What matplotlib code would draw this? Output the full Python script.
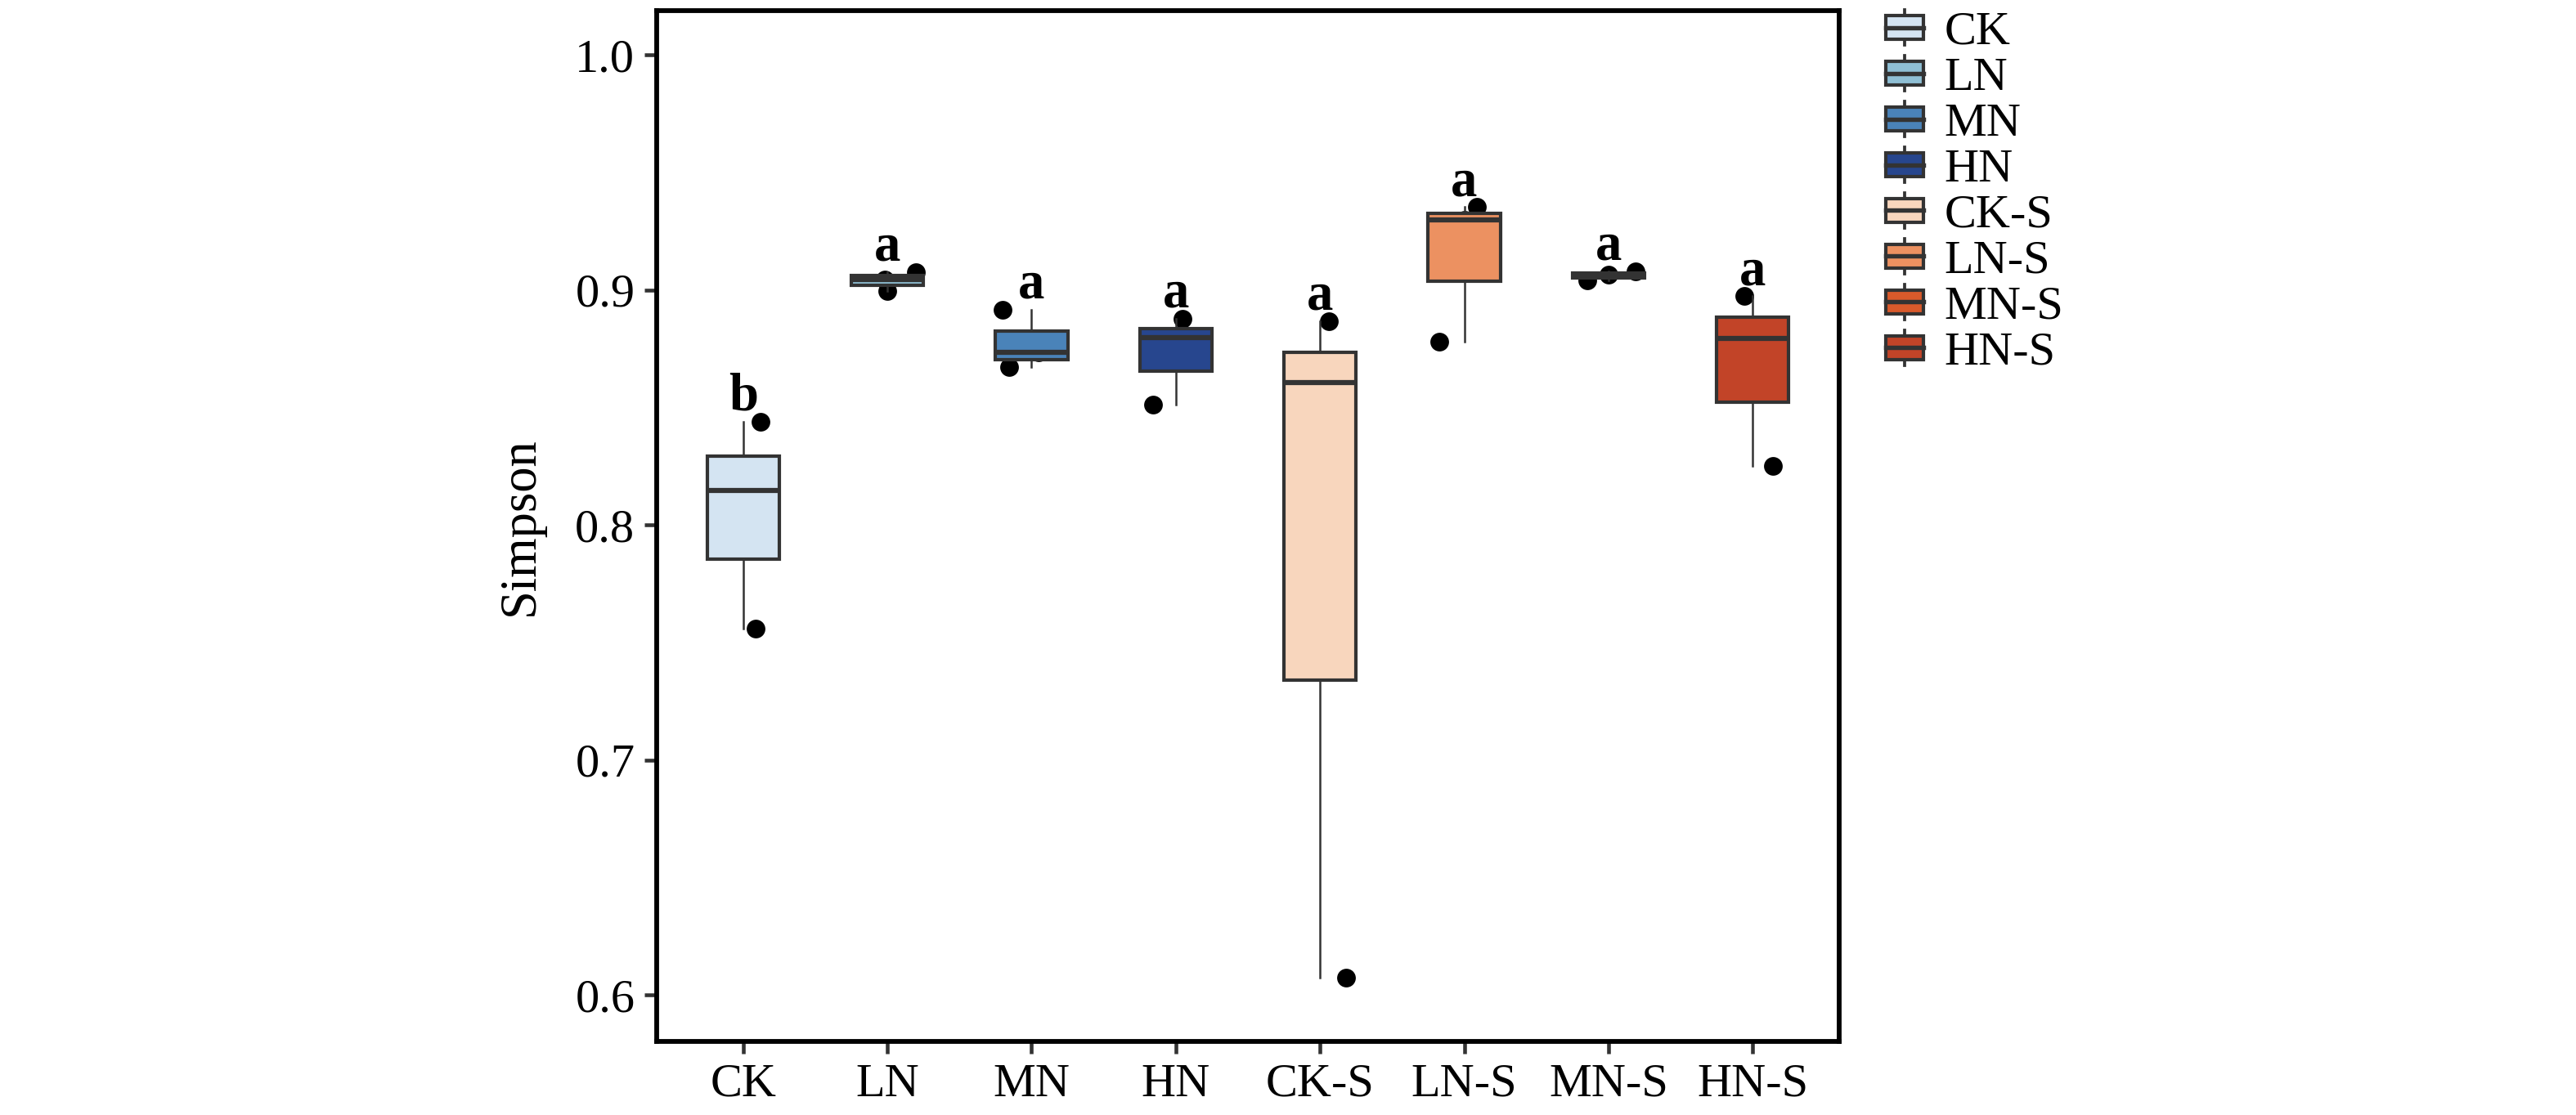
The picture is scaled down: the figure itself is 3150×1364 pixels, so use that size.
import matplotlib
matplotlib.use('Agg')
import matplotlib.pyplot as plt
import numpy as np
from matplotlib.legend_handler import HandlerBase
from matplotlib.patches import Rectangle, Patch
from matplotlib.lines import Line2D

plt.rcParams['font.family'] = 'serif'
plt.rcParams['font.serif'] = ['Liberation Serif', 'DejaVu Serif']
SERIF = 'Liberation Serif'

# Simpson index, three replicates per treatment
groups = ['CK', 'LN', 'MN', 'HN', 'CK-S', 'LN-S', 'MN-S', 'HN-S']
ck = [0.756, 0.8145, 0.844]
ln = [0.8995, 0.9045, 0.9075]
mn = [0.867, 0.8735, 0.8915]
hn = [0.8513, 0.8796, 0.8877]
ck_s = [0.6075, 0.8605, 0.8866]
ln_s = [0.878, 0.9296, 0.9352]
mn_s = [0.9040, 0.9063, 0.9078]
hn_s = [0.8251, 0.8792, 0.8973]
values = [ck, ln, mn, hn, ck_s, ln_s, mn_s, hn_s]

# horizontal jitter of the points
jitter = [[0.085, 0.0, 0.12],
          [0.0, -0.02, 0.20],
          [-0.155, 0.05, -0.20],
          [-0.16, 0.0, 0.045],
          [0.18, 0.0, 0.06],
          [-0.175, 0.0, 0.085],
          [-0.145, 0.0, 0.19],
          [0.14, 0.0, -0.06]]

letters = ['b', 'a', 'a', 'a', 'a', 'a', 'a', 'a']

colors = ['#d4e4f2', '#8fbfd4', '#4a83b9', '#27468e',
          '#f8d6bd', '#ec9161', '#d95a2b', '#c24428']

edge = '#333333'


class BoxKey(HandlerBase):
    def create_artists(self, legend, orig_handle, xdescent, ydescent,
                       width, height, fontsize, trans):
        fc = orig_handle.get_facecolor()
        x0, y0 = -xdescent, -ydescent
        cx = x0 + width / 2
        cy = y0 + height / 2
        bh = height * 0.68
        w = Line2D([cx, cx], [y0, y0 + height], color=edge, lw=0.9, transform=trans)
        b = Rectangle((x0, cy - bh / 2), width, bh, facecolor=fc,
                      edgecolor=edge, lw=1.0, transform=trans)
        m = Line2D([x0, x0 + width], [cy, cy], color=edge, lw=1.3, transform=trans)
        return [w, b, m]


fig = plt.figure(figsize=(10.5, 1364 / 300))
ax = fig.add_axes([803 / 3150, 1 - 1274 / 1364, (2249 - 803) / 3150, (1274 - 13) / 1364])

pos = np.arange(len(groups))

# points first, the boxes cover the middle ones
for i, (v, j) in enumerate(zip(values, jitter)):
    ax.scatter(pos[i] + np.array(j), v, s=30, color='black', zorder=1, linewidths=0)

bp = ax.boxplot(values, positions=pos, widths=0.5, whis=(0, 100), patch_artist=True,
                showcaps=False, showfliers=False, zorder=2,
                boxprops=dict(edgecolor=edge, linewidth=1.0),
                medianprops=dict(color=edge, linewidth=1.5),
                whiskerprops=dict(color=edge, linewidth=0.6))
for patch, c in zip(bp['boxes'], colors):
    patch.set_facecolor(c)

for i, v in enumerate(values):
    ax.text(pos[i], max(v) + 0.0105, letters[i], ha='center', va='center',
            fontsize=15.5, fontweight='bold', family=SERIF, zorder=4)

ax.set_xlim(-0.6, 7.6)
ax.set_ylim(0.5802, 1.0188)
ax.set_xticks(pos)
ax.set_xticklabels(groups, family=SERIF)
ax.set_yticks([0.6, 0.7, 0.8, 0.9, 1.0])
ax.set_yticklabels(['0.6', '0.7', '0.8', '0.9', '1.0'], family=SERIF)
ax.tick_params(axis='both', labelsize=14, length=3.6, width=1.1, color=edge, pad=2.8)
ax.set_ylabel('Simpson', fontsize=15, labelpad=9, family=SERIF)

for s in ax.spines.values():
    s.set_linewidth(1.4)
    s.set_color('black')

handles = [Patch(facecolor=c, label=g) for c, g in zip(colors, groups)]
fig.legend(handles=handles, handler_map={Patch: BoxKey()}, loc='upper left',
           bbox_to_anchor=(2306 / 3150, 1 - 12 / 1364), frameon=False,
           prop=dict(family=SERIF, size=14),
           handlelength=0.78, handleheight=0.76, handletextpad=0.45,
           labelspacing=0.036, borderpad=0, borderaxespad=0)

fig.savefig('out.png', dpi=300)
